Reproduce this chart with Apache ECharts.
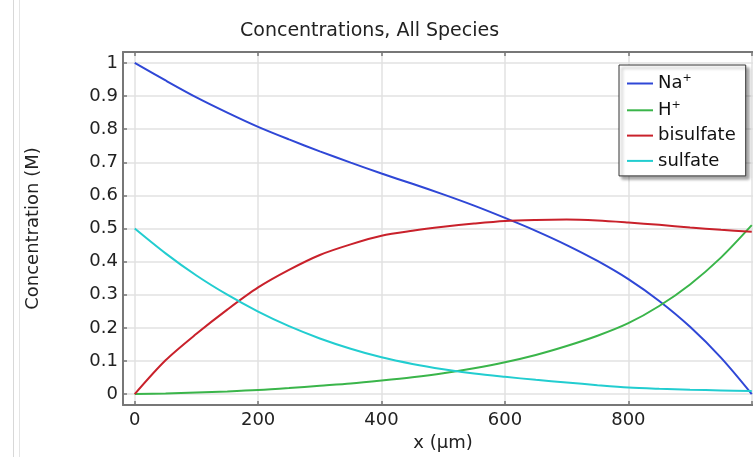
<!DOCTYPE html>
<html lang="en">
<head>
    <meta charset="UTF-8">
    <title>Concentrations, All Species</title>
    <script src="https://cdn.jsdelivr.net/npm/echarts@6/dist/echarts.min.js"></script>
    <style>
        html,body{margin:0;padding:0;background:#fff}
        #chart{width:753px;height:457px}
    </style>
</head>
<body>
<div id="chart"></div>
<script>
// x positions in um
var xs=[0,50,100,150,200,250,300,350,400,450,500,550,600,650,700,750,800,850,900,950,1000];
var na=[1.0,0.947,0.896,0.850,0.807,0.769,0.733,0.699,0.666,0.635,0.603,0.569,0.532,0.493,0.450,0.402,0.347,0.281,0.203,0.110,0.0];
var hplus=[0.0,0.002,0.005,0.008,0.012,0.018,0.025,0.032,0.041,0.051,0.063,0.078,0.096,0.118,0.145,0.176,0.214,0.266,0.331,0.412,0.51];
var bisulfate=[0.0,0.102,0.182,0.255,0.322,0.375,0.420,0.452,0.478,0.493,0.505,0.515,0.523,0.526,0.527,0.524,0.518,0.511,0.503,0.496,0.490];
var sulfate=[0.5,0.425,0.358,0.300,0.249,0.205,0.168,0.137,0.111,0.091,0.075,0.062,0.052,0.043,0.035,0.027,0.020,0.016,0.013,0.011,0.009];

var xTicks=[0,200,400,600,800,1000];
var xLabels=[0,200,400,600,800];
var yTicks=[0,0.1,0.2,0.3,0.4,0.5,0.6,0.7,0.8,0.9,1];

var font='DejaVu Sans';
function pairs(arr){
    return xs.map(function(x,i){return [x,arr[i]];});
}
function line(name,arr,color){
    return {
        name:name,type:'line',data:pairs(arr),symbol:'none',smooth:0.3,
        lineStyle:{color:color,width:2},itemStyle:{color:color},
        xAxisIndex:0,yAxisIndex:0,z:3
    };
}

var myChart=echarts.init(document.getElementById('chart'));
var option={
    animation:false,
    textStyle:{fontFamily:font},
    title:{
        text:'Concentrations, All Species',left:235,top:17,
        textStyle:{fontFamily:font,fontSize:19,fontWeight:'normal',color:'#222'}
    },
    grid:{left:123,right:0,top:52,bottom:52,containLabel:false},
    legend:{
        orient:'vertical',left:619,top:65,
        padding:[8,10,6,8],itemGap:7.3,itemWidth:26,itemHeight:2,icon:'rect',
        backgroundColor:'#fff',borderColor:'#333',borderWidth:1,borderRadius:0,
        shadowColor:'rgba(0,0,0,0.35)',shadowBlur:3,shadowOffsetX:3,shadowOffsetY:3,
        data:['Na+','H+','bisulfate','sulfate'],
        formatter:function(n){
            if(n=='Na+') return '{t|Na}{s|+}';
            if(n=='H+') return '{t|H}{s|+}';
            return '{t|'+n+'}';
        },
        textStyle:{
            fontFamily:font,fontSize:18,color:'#111',
            rich:{
                t:{fontFamily:font,fontSize:18,color:'#111',lineHeight:20},
                s:{fontFamily:font,fontSize:11,color:'#111',padding:[0,0,10,0]}
            }
        }
    },
    xAxis:[{
        type:'value',min:-19,max:1002,position:'bottom',
        name:'x (\u03bcm)',nameLocation:'middle',nameGap:25,
        nameTextStyle:{fontFamily:font,fontSize:18,color:'#222',padding:[0,0,0,10]},
        axisLine:{show:true,onZero:false,lineStyle:{color:'#777',width:2}},
        axisTick:{show:true,inside:true,length:4,customValues:xTicks,lineStyle:{color:'#777',width:1.5}},
        axisLabel:{customValues:xLabels,margin:6,fontFamily:font,fontSize:18,color:'#222'},
        splitLine:{show:true,lineStyle:{color:'#e2e2e2',width:1.5}}
    },{
        type:'value',min:-19,max:1002,position:'top',
        axisLine:{show:true,onZero:false,lineStyle:{color:'#777',width:2}},
        axisTick:{show:true,inside:true,length:4,customValues:xTicks,lineStyle:{color:'#777',width:1.5}},
        axisLabel:{show:false},
        splitLine:{show:false}
    }],
    yAxis:{
        type:'value',min:-0.033,max:1.033,
        name:'Concentration (M)',nameLocation:'middle',nameGap:81,nameRotate:90,
        nameTextStyle:{fontFamily:font,fontSize:18,color:'#222'},
        axisLine:{show:true,onZero:false,lineStyle:{color:'#777',width:2}},
        axisTick:{show:true,inside:true,length:4,customValues:yTicks,lineStyle:{color:'#777',width:1.5}},
        axisLabel:{customValues:yTicks,margin:5,fontFamily:font,fontSize:18,color:'#222'},
        splitLine:{show:true,lineStyle:{color:'#e2e2e2',width:1.5}}
    },
    graphic:[
        {type:'rect',shape:{x:13,y:0,width:1,height:457},style:{fill:'#d8d8d8'},silent:true},
        {type:'rect',shape:{x:19,y:0,width:1,height:457},style:{fill:'#e4e4e4'},silent:true}
    ],
    series:[
        line('Na+',na,'#2f47d6'),
        line('H+',hplus,'#3ab54a'),
        line('bisulfate',bisulfate,'#c9212b'),
        line('sulfate',sulfate,'#22cdd0')
    ]
};
myChart.setOption(option);
</script>
</body>
</html>
